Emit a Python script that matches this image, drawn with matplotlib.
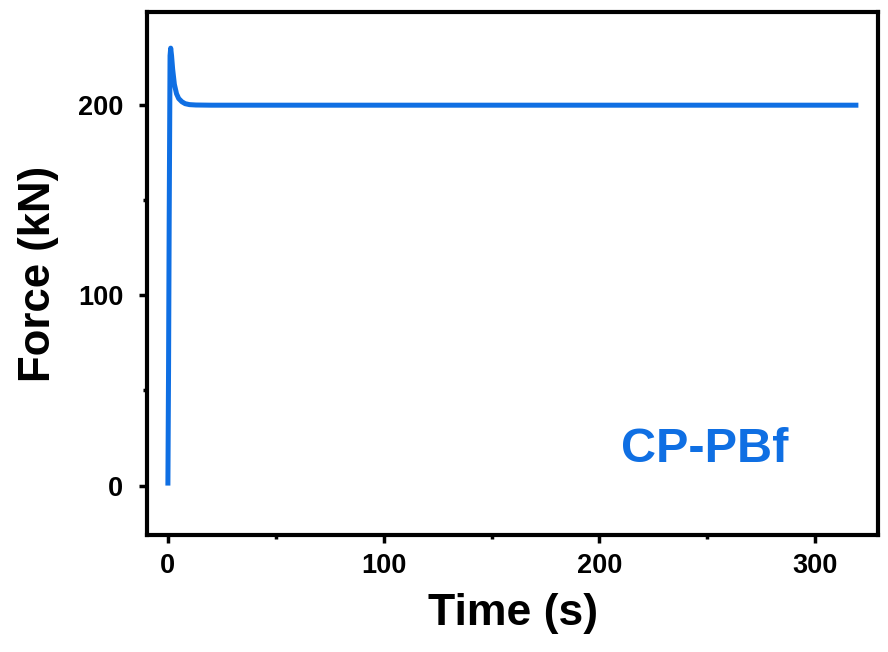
import matplotlib.pyplot as plt

plt.rcParams['font.family'] = ['Liberation Sans', 'DejaVu Sans']
plt.rcParams['font.weight'] = 'bold'

time_s = [0, 0.3, 0.6, 1.0, 1.3, 1.7, 2.2, 3.0, 4.0, 5.0, 6.5, 8.0, 10, 13, 20, 50, 100, 150, 200, 250, 300, 320]
force_kn = [0, 60, 140, 226, 230, 226, 219, 211, 206, 203.5, 201.8, 200.8, 200.3, 200.1, 200, 200, 200, 200, 200, 200, 200, 200]

line_color = '#0F6FE3'

fig = plt.figure(figsize=(8.88, 6.52), dpi=100)
ax = fig.add_axes([0.1655, 0.1794, 0.8235, 0.8022])

ax.plot(time_s, force_kn, c=line_color, lw=3.6, solid_capstyle='butt')

ax.set_xlim(-9.7, 329.2)
ax.set_ylim(-26, 249)
ax.set_xticks([0, 100, 200, 300])
ax.set_xticks([50, 150, 250], minor=True)
ax.set_yticks([0, 100, 200])
ax.set_yticks([50, 150], minor=True)

for s in ax.spines.values():
    s.set_linewidth(3)
ax.tick_params(which='major', direction='out', length=6, width=2.5, labelsize=19.5)
ax.tick_params(which='minor', direction='out', length=3, width=2.5)
ax.tick_params(axis='x', which='major', pad=7)
ax.tick_params(axis='y', which='major', pad=11)

ax.set_xlabel('Time (s)', fontsize=32, fontweight='bold', labelpad=10)
ax.set_ylabel('Force (kN)', fontsize=31.5, fontweight='bold', labelpad=14)

ax.text(0.762, 0.164, 'CP-PBf', transform=ax.transAxes, color=line_color,
        fontsize=35, fontweight='bold', ha='center', va='center')

fig.savefig('out.png', dpi=100)
